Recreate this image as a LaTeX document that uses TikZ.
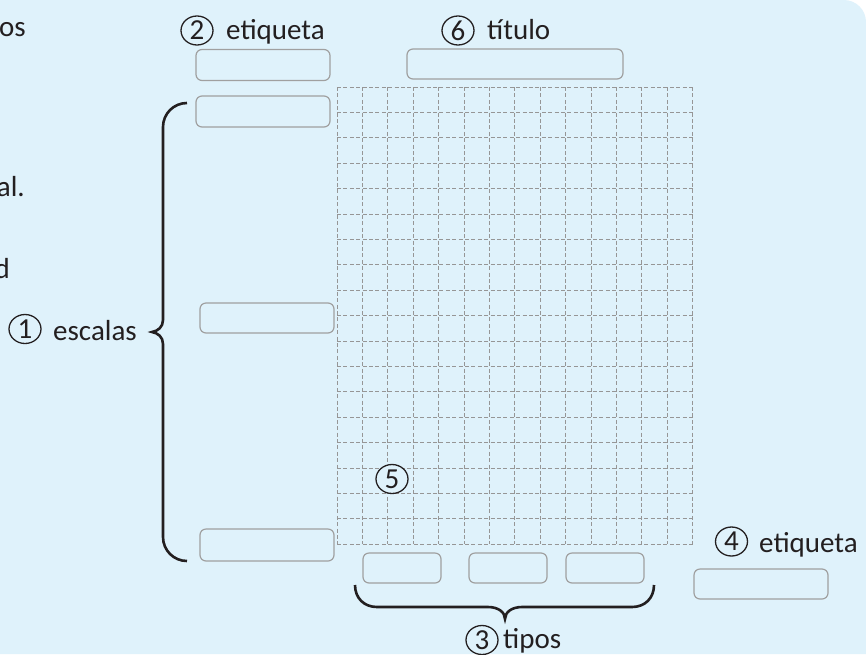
\documentclass[tikz,border=0pt]{standalone}
\usepackage{fontspec}
\setmainfont{Carlito}
\usetikzlibrary{shapes.geometric}

\definecolor{bgblue}{RGB}{223,242,251}
\definecolor{boxgray}{RGB}{160,160,160}
\definecolor{gridgray}{RGB}{150,150,150}
\definecolor{inkdark}{RGB}{35,31,32}

\begin{document}
\begin{tikzpicture}[x=1pt,y=-1pt,
  lbl/.style={font=\fontsize{29}{34}\selectfont,text=inkdark,inner sep=0pt},
  numcirc/.style={ellipse,draw=inkdark,line width=1.3pt,minimum width=32pt,minimum height=29pt,
    inner sep=0pt,fill=bgblue,font=\fontsize{29}{34}\selectfont,text=inkdark},
  ansbox/.style={draw=boxgray,line width=1.2pt,rounded corners=6pt,minimum height=31pt,inner sep=0pt},
  gridline/.style={gridgray,line width=1pt,dash pattern=on 4pt off 2.4pt},
  bracepath/.style={inkdark,line width=2.6pt}]
  \useasboundingbox (0,0) rectangle (866,654);
  \fill[bgblue] (0,654) -- (0,0) -- (844,0) arc[start angle=-90,end angle=0,radius=22] -- (866,654) -- cycle;

  % cut-off words of the text column
  \node[lbl,anchor=base east] (txtos) at (26,36) {os};
  \node[lbl,anchor=base east] (txtal) at (25,196) {al.};
  \node[lbl,anchor=base east] (txtd) at (10,278) {d};

  % dashed grid, 14 x 18 cells
  \foreach \i in {0,...,14}
    \draw[gridline] (337+25.4*\i,87) -- (337+25.4*\i,544.2);
  \foreach \j in {0,...,18}
    \draw[gridline] (337,87+25.4*\j) -- (692.6,87+25.4*\j);

  % answer boxes
  \node[ansbox,minimum width=134pt] (labbox) at (263,65) {};
  \node[ansbox,minimum width=216pt,minimum height=30pt] (titbox) at (515,64) {};
  \node[ansbox,minimum width=134pt] (scaletop) at (263,111.5) {};
  \node[ansbox,minimum width=134pt,minimum height=30pt] (scalemid) at (267,318) {};
  \node[ansbox,minimum width=134pt,minimum height=32pt] (scalebot) at (267,545) {};
  \node[ansbox,minimum width=78pt,minimum height=30pt] (typea) at (402,568) {};
  \node[ansbox,minimum width=78pt,minimum height=30pt] (typeb) at (508,568) {};
  \node[ansbox,minimum width=78pt,minimum height=30pt] (typec) at (605,568) {};
  \node[ansbox,minimum width=134pt,minimum height=30pt] (xlabbox) at (761,584) {};

  % braces
  \draw[bracepath] (187,103) .. controls (173.7,103) and (163,113.7) .. (163,127) -- (163,320)
    .. controls (163,327) and (158,331) .. (152,332) .. controls (158,333) and (163,337) .. (163,344)
    -- (163,537) .. controls (163,550.3) and (173.7,561) .. (187,561);
  \draw[bracepath] (355,585) .. controls (355,598) and (364,607) .. (377,607) -- (488,607)
    .. controls (498,607) and (505,612) .. (505,619) .. controls (505,612) and (512,607) .. (522,607)
    -- (632,607) .. controls (645,607) and (654,598) .. (654,585);

  % numbered labels
  \node[numcirc] (num1) at (25,329) {1};
  \node[lbl,anchor=base west] (scalelab) at (53,340) {escalas};
  \node[numcirc] (num2) at (197,30.5) {2};
  \node[lbl,anchor=base west] (ylab) at (226,39.5) {etiqueta};
  \node[numcirc] (num3) at (482,640) {3};
  \node[lbl,anchor=base west] (typelab) at (503,648) {tipos};
  \node[numcirc] (num4) at (731.5,541.5) {4};
  \node[lbl,anchor=base west] (xlab) at (759,552) {etiqueta};
  \node[numcirc] (num5) at (392,479) {5};
  \node[numcirc] (num6) at (458,30.5) {6};
  \node[lbl,anchor=base west] (titlab) at (487,39.5) {título};
\end{tikzpicture}
\end{document}
